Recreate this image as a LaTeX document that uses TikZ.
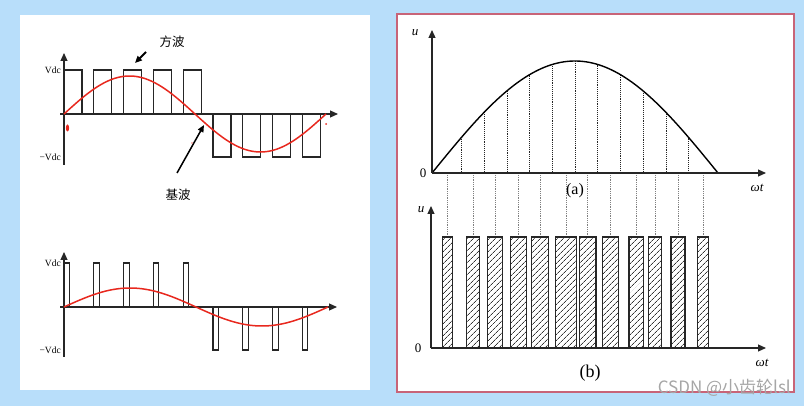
\documentclass[tikz,border=0pt]{standalone}
\usepackage{fontspec}
\setmainfont{Liberation Serif}
\newfontfamily\cjk{Noto Sans CJK SC}
\usetikzlibrary{arrows.meta,patterns.meta}
\definecolor{bgblue}{RGB}{184,222,250}
\definecolor{framecol}{RGB}{200,100,120}
\definecolor{wavecol}{RGB}{232,40,30}
\begin{document}
\begin{tikzpicture}[x=1pt,y=-1pt,
  axis/.style={line width=1.2pt,draw=black!85,-{Triangle[length=8pt,width=7pt]}},
  pulse/.style={line width=1.1pt,draw=black!85},
  sinewave/.style={line width=1.5pt,draw=wavecol},
  ptr/.style={line width=1.5pt,-{Triangle[length=7pt,width=6pt]}},
  vlab/.style={font=\fontsize{9.5}{10}\selectfont,anchor=east,inner sep=1pt},
  cjklab/.style={font=\cjk\fontsize{12.5}{13}\selectfont},
  dotA/.style={line width=0.9pt,densely dotted,draw=black!85},
  dotB/.style={line width=0.8pt,densely dotted,draw=black!50},
  bar/.style={line width=1.1pt,draw=black!85,pattern={Lines[angle=45,distance=4pt,line width=0.7pt]},pattern color=black!80},
  axlab/.style={font=\fontsize{12}{13}\selectfont,inner sep=1pt},
  sublab/.style={font=\fontsize{16}{17}\selectfont,inner sep=1pt}]
\useasboundingbox (0,0) rectangle (804,406);
\fill[bgblue] (0,0) rectangle (804,406);
\fill[white] (20,15) rectangle (370,390);
\filldraw[fill=white,draw=framecol,line width=1.5pt] (397,14) rectangle (794,392);

% ---------- left top: square wave ----------
\coordinate (o1) at (64,114);
\coordinate (y1b) at (64,165);
\coordinate (y1t) at (64,53);
\coordinate (x1s) at (60,114);
\coordinate (x1e) at (338,114);
\draw[axis] (y1b) -- (y1t);
\draw[axis] (x1s) -- (x1e);
\foreach \k in {0,...,4}{
  \pgfmathsetmacro\s{64+29.8*\k}
  \draw[pulse] (\s,114) -- (\s,70) -- (\s+18,70) -- (\s+18,114);
}
\foreach \k in {5,...,8}{
  \pgfmathsetmacro\s{64+29.8*\k}
  \draw[pulse] (\s,114) -- (\s,157) -- (\s+18,157) -- (\s+18,114);
}
\draw[sinewave] plot[domain=64:326,samples=120] (\x,{114-38*sin((\x-64)*1.37405)});
\node[vlab] (vdc1) at (62,70) {Vdc};
\node[vlab] (mvdc1) at (62,157) {−Vdc};
\node[cjklab] (fb) at (172,42) {方波};
\coordinate (fbA) at (146,52);
\coordinate (fbB) at (135,63);
\draw[ptr,line width=1.8pt] (fbA) -- (fbB);
\node[cjklab] (jb) at (178,195) {基波};
\coordinate (jbA) at (177,173);
\coordinate (jbB) at (204,125);
\draw[ptr] (jbA) -- (jbB);
\fill[wavecol] (67.5,128) ellipse (1.6pt and 3.5pt);
\fill[wavecol] (326,124) circle (1pt);
\fill[wavecol!60] (192,143) circle (0.8pt);

% ---------- left bottom: narrow pulses ----------
\coordinate (o2) at (64,307);
\coordinate (y2b) at (64,357);
\coordinate (y2t) at (64,252);
\coordinate (x2s) at (60,307);
\coordinate (x2e) at (337,307);
\draw[axis] (y2b) -- (y2t);
\draw[axis] (x2s) -- (x2e);
\foreach \k in {0,...,4}{
  \pgfmathsetmacro\s{64+29.8*\k}
  \draw[pulse] (\s,307) -- (\s,263) -- (\s+5.5,263) -- (\s+5.5,307);
}
\foreach \k in {5,...,8}{
  \pgfmathsetmacro\s{64+29.8*\k}
  \draw[pulse] (\s,307) -- (\s,350) -- (\s+5.5,350) -- (\s+5.5,307);
}
\draw[sinewave] plot[domain=64:328,samples=120] (\x,{307-19*sin((\x-64)*1.363636)});
\node[vlab] (vdc2) at (62,263) {Vdc};
\node[vlab] (mvdc2) at (62,350) {−Vdc};

% ---------- right (a) ----------
\coordinate (oa) at (432,173);
\coordinate (yat) at (432,30);
\coordinate (xae) at (766,173);
\foreach \k in {0,...,10}{
  \pgfmathsetmacro\xx{461.7+22.7*\k}
  \pgfmathsetmacro\yy{173-112*sin((\xx-432)*0.629371)}
  \draw[dotA] (\xx,\yy) -- (\xx,173);
}
\draw[line width=1.4pt] plot[domain=432:718,samples=120] (\x,{173-112*sin((\x-432)*0.629371)});
\draw[axis] (oa) -- (yat);
\draw[axis] (oa) -- (xae);
\node[axlab,font=\itshape\fontsize{13}{14}\selectfont] (ua) at (415,33) {u};
\node[axlab,font=\fontsize{13}{14}\selectfont] (za) at (423,173) {0};
\node[axlab,font=\itshape\fontsize{13}{14}\selectfont] (wa) at (757,188) {ωt};
\node[sublab] (la) at (575,191) {(a)};

% ---------- right (b) ----------
\coordinate (ob) at (431,348);
\coordinate (ybt) at (431,206);
\coordinate (xbe) at (766,348);
\foreach \a/\b in {442.3/452.7,466.7/479.3,487.7/502.3,510.3/526.7,531.7/548.3,555.7/576.7,579.3/596,602.3/618.3,629/643.3,648.3/661.7,671/685,697.7/708.3}{
  \draw[dotB] ({(\a+\b)/2},175) -- ({(\a+\b)/2},237);
  \draw[bar] (\a,348) rectangle (\b,237);
}
\draw[axis] (ob) -- (ybt);
\draw[axis] (ob) -- (xbe);
\node[axlab,font=\itshape\fontsize{13}{14}\selectfont] (ub) at (421,210) {u};
\node[axlab,font=\fontsize{13}{14}\selectfont] (zb) at (418,348) {0};
\node[axlab,font=\itshape\fontsize{13}{14}\selectfont] (wb) at (762,363) {ωt};
\node[sublab,font=\fontsize{18}{19}\selectfont] (lb) at (590,373) {(b)};

\node[font=\cjk\fontsize{17}{18}\selectfont,text=black!35,anchor=east,inner sep=0pt] (wm) at (791,388) {CSDN @小齿轮lsl};
\end{tikzpicture}
\end{document}
